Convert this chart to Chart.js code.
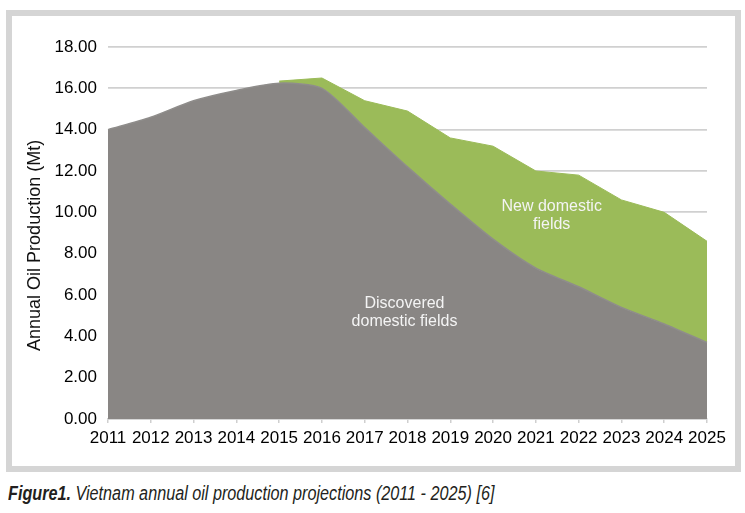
<!DOCTYPE html>
<html>
<head>
<meta charset="utf-8">
<script src="https://cdn.jsdelivr.net/npm/chart.js@4/dist/chart.umd.min.js"></script>
<style>
  body { margin: 0; background: #fff; width: 745px; height: 513px; overflow: hidden; position: relative; }
  #frame { position: absolute; left: 6px; top: 10px; width: 735px; height: 462px; box-sizing: border-box; border: 6px solid #d5d5d5; }
  #c { position: absolute; left: 0; top: 0; }
  #caption { position: absolute; left: 8px; top: 481px; font-family: "Liberation Sans Narrow", "Liberation Sans", sans-serif; font-style: italic; font-size: 20.5px; color: #231f20; white-space: nowrap; transform: scaleX(0.79); transform-origin: 0 0; }
  #caption b { font-weight: bold; }
</style>
</head>
<body>
<div id="frame"></div>
<canvas id="c" width="745" height="470"></canvas>
<div id="caption"><b>Figure1.</b> Vietnam annual oil production projections (2011 - 2025) [6]</div>
<script>
'use strict';

const years = ['2011', '2012', '2013', '2014', '2015', '2016', '2017', '2018', '2019', '2020', '2021', '2022', '2023', '2024', '2025'];
const discovered = [14.0, 14.6, 15.4, 15.9, 16.25, 16.0, 14.1, 12.2, 10.4, 8.7, 7.3, 6.4, 5.4, 4.6, 3.7];
const newFields = [null, null, null, null, 0.1, 0.5, 1.3, 2.7, 3.2, 4.5, 4.7, 5.4, 5.2, 5.4, 4.9];
const yTicks = [0, 2, 4, 6, 8, 10, 12, 14, 16, 18];
const yTitle = 'Annual Oil Production (Mt)';

// area labels, drawn in data coordinates
const areaLabels = [
  { lines: ['Discovered', 'domestic fields'], x: 6.93, y: 5.6 },
  { lines: ['New domestic', 'fields'], x: 10.37, y: 10.3 }
];

const labelPlugin = {
  id: 'areaLabels',
  afterDatasetsDraw(chart) {
    const ctx = chart.ctx;
    const xs = chart.scales.x;
    const ys = chart.scales.y;
    ctx.save();
    ctx.font = '16px "Liberation Sans", Arial, sans-serif';
    ctx.fillStyle = '#f4f4f4';
    ctx.textAlign = 'center';
    ctx.textBaseline = 'middle';
    areaLabels.forEach(function (lab) {
      const px = xs.getPixelForValue(lab.x);
      const py = ys.getPixelForValue(lab.y);
      for (let i = 0; i < lab.lines.length; i++) {
        ctx.fillText(lab.lines[i], px, py + i * 18);
      }
    });

    // y title sits a little below the axis middle in the original
    ctx.font = '18px "Liberation Sans", Arial, sans-serif';
    ctx.fillStyle = '#111';
    ctx.translate(35, ys.getPixelForValue(8.4));
    ctx.rotate(-Math.PI / 2);
    ctx.fillText(yTitle, 0, 0);
    ctx.restore();
  }
};

const ctx = document.getElementById('c').getContext('2d');
const myChart = new Chart(ctx, {
  type: 'line',
  data: {
    labels: years,
    datasets: [{
      label: 'Discovered domestic fields',
      data: discovered,
      backgroundColor: '#898684',
      borderColor: '#8f8d8b',
      borderWidth: 1.5,
      fill: 'origin',
      tension: 0.25,
      pointRadius: 0
    }, {
      label: 'New domestic fields',
      data: newFields,
      backgroundColor: '#9bbb59',
      borderColor: '#9bbb59',
      borderWidth: 1,
      fill: '-1',
      tension: 0,
      pointRadius: 0
    }]
  },
  options: {
    responsive: false,
    animation: false,
    layout: { padding: { left: 0, right: 38, top: 47, bottom: 0 } },
    plugins: {
      legend: { display: false },
      tooltip: { enabled: false }
    },
    scales: {
      x: {
        offset: false,
        grid: { drawOnChartArea: false, drawTicks: true, tickLength: 4, color: '#cfcfcf', lineWidth: 1.5 },
        border: { color: '#cfcfcf', width: 1.5 },
        ticks: {
          color: '#000',
          padding: 5,
          maxRotation: 0,
          autoSkip: false,
          font: { family: '"Liberation Sans", Arial, sans-serif', size: 17 }
        },
        afterFit(scale) { scale.height = 51; }
      },
      y: {
        stacked: true,
        min: 0,
        max: 18,
        afterBuildTicks(scale) { scale.ticks = yTicks.map(function (v) { return { value: v }; }); },
        grid: { drawTicks: false, color: '#d0d0d0', lineWidth: 1.8 },
        border: { display: false },
        ticks: {
          color: '#000',
          padding: 11,
          font: { family: '"Liberation Sans", Arial, sans-serif', size: 17 },
          callback: function (v) { return Number(v).toFixed(2); }
        },
        afterFit(scale) { scale.width = 108; }
      }
    }
  },
  plugins: [labelPlugin]
});
</script>
</body>
</html>
